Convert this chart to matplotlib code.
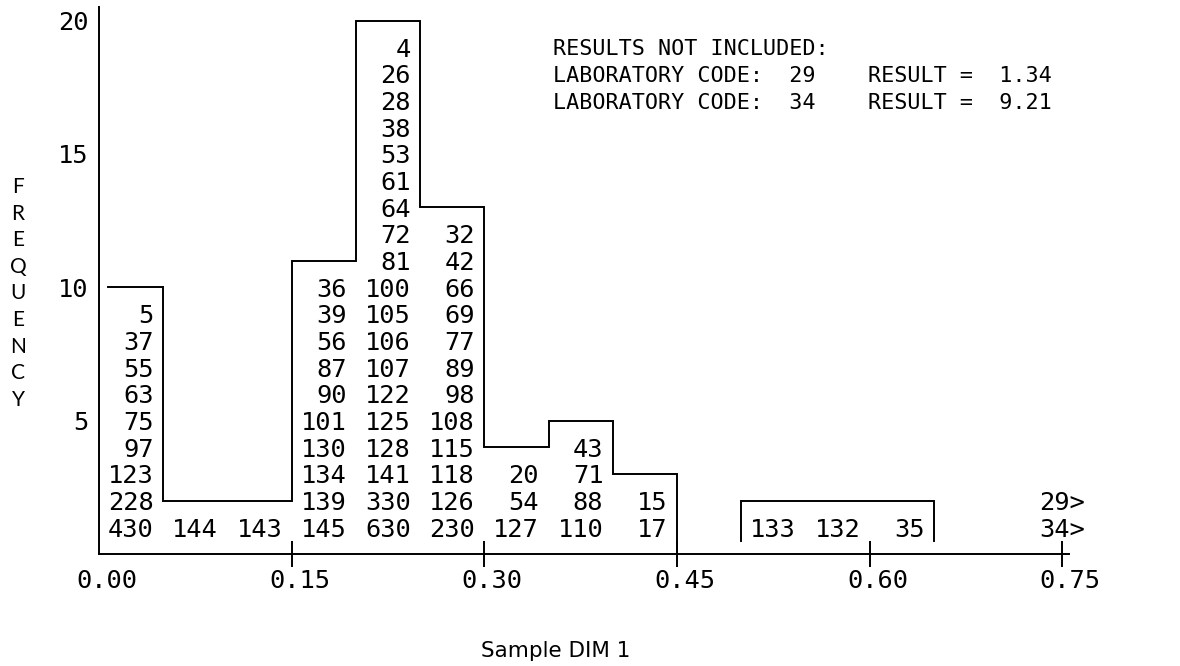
import numpy as np
import matplotlib
matplotlib.use('Agg')
import matplotlib.pyplot as plt
from matplotlib.transforms import ScaledTranslation

# ---------------- data ----------------
bin_edges = [0.00, 0.05, 0.10, 0.15, 0.20, 0.25, 0.30, 0.35, 0.40,
             0.45, 0.50, 0.55, 0.60, 0.65, 0.70, 0.75]

# laboratory codes in each bin, listed bottom -> top
bin0 = [430, 228, 123, 97, 75, 63, 55, 37, 5]
bin1 = [144]
bin2 = [143]
bin3 = [145, 139, 134, 130, 101, 90, 87, 56, 39, 36]
bin4 = [630, 330, 141, 128, 125, 122, 107, 106, 105, 100, 81, 72, 64, 61, 53, 38, 28, 26, 4]
bin5 = [230, 126, 118, 115, 108, 98, 89, 77, 69, 66, 42, 32]
bin6 = [127, 54, 20]
bin7 = [110, 88, 71, 43]
bin8 = [17, 15]
bin9 = []
bin10 = [133]
bin11 = [132]
bin12 = [35]
bin13 = []
bin14 = []
bin_codes = [bin0, bin1, bin2, bin3, bin4, bin5, bin6, bin7, bin8,
             bin9, bin10, bin11, bin12, bin13, bin14]

overflow_labels = ["34>", "29>"]          # bottom -> top, beyond 0.75
excluded_codes = [29, 34]
excluded_results = [1.34, 9.21]

xtick_values = [0.00, 0.15, 0.30, 0.45, 0.60, 0.75]
xtick_labels = ["0.00", "0.15", "0.30", "0.45", "0.60", "0.75"]
ytick_values = [5, 10, 15, 20]
ytick_labels = ["5", "10", "15", "20"]

# ---------------- figure ----------------
plt.rcParams['font.family'] = ['DejaVu Sans Mono']
W, H = 1180, 666
fig = plt.figure(figsize=(W / 100, H / 100), dpi=100)
ax = fig.add_axes([0, 0, 1, 1])

x0_px, xscale = 99.0, 1284.4      # pixel of x=0, pixels per unit
y0_px, yscale = 554.0, 26.67      # pixel (from top) of y=0, pixels per count
ax.set_xlim(-x0_px / xscale, (W - x0_px) / xscale)
ax.set_ylim(-(H - y0_px) / yscale, y0_px / yscale)

LW = 1.4
FS = 18.3
counts = np.array([len(c) for c in bin_codes])
edges = np.array(bin_edges)

# ---- histogram outlines (drawn height = count + 1) ----
def outline(i0, i1, left_drop, right_drop, inset=0.0):
    hts = counts[i0:i1] + 1
    xs, ys = [], []
    if left_drop is not None:
        xs.append(edges[i0]); ys.append(left_drop)
    for k, h in enumerate(hts):
        xl = edges[i0 + k] + (inset if k == 0 else 0.0)
        xs += [xl, edges[i0 + k + 1]]
        ys += [h, h]
    xs.append(edges[i1]); ys.append(right_drop)
    ax.plot(xs, ys, color='black', lw=LW, solid_joinstyle='miter', zorder=3)

outline(0, 9, None, 0.0, inset=0.007)
outline(10, 13, 0.5, 0.5)

# ---- code labels in each bin ----
for i, codes in enumerate(bin_codes):
    for j, code in enumerate(codes):
        ax.annotate(str(code), xy=(edges[i + 1], j + 1), xytext=(-6.8, 0),
                    textcoords='offset points', ha='right',
                    va='center_baseline', fontsize=FS, color='black')

for j, lab in enumerate(overflow_labels):
    ax.annotate(lab, xy=(edges[-1], j + 1), xytext=(16.5, 0),
                textcoords='offset points', ha='right',
                va='center_baseline', fontsize=FS, color='black')

# ---- axes ----
for s in ['top', 'right']:
    ax.spines[s].set_visible(False)
ax.spines['left'].set_position(('data', 0))
ax.spines['bottom'].set_position(('data', 0))
ax.spines['left'].set_bounds(0, 20.5)
ax.spines['bottom'].set_bounds(0, 0.7555)
ax.spines['left'].set_linewidth(LW)
ax.spines['bottom'].set_linewidth(LW)

ax.set_xticks(xtick_values)
ax.set_xticklabels(xtick_labels)
ax.tick_params(axis='x', direction='inout', length=18.7, width=LW,
               pad=1.5, labelsize=FS, colors='black')
ax.xaxis.get_major_ticks()[0].tick1line.set_visible(False)
shift = ScaledTranslation(8 / 100, 0, fig.dpi_scale_trans)
for lbl in ax.get_xticklabels():
    lbl.set_transform(lbl.get_transform() + shift)
ax.set_yticks(ytick_values)
ax.set_yticklabels(ytick_labels)
ax.tick_params(axis='y', length=0, pad=7.5, labelsize=FS, colors='black')

# ---- excluded results note ----
note_x = (553 - x0_px) / xscale
ax.text(note_x, 19, "RESULTS NOT INCLUDED:", ha='left', va='center_baseline',
        fontsize=15.7)
for k, (code, res) in enumerate(zip(excluded_codes, excluded_results)):
    ax.text(note_x, 18 - k, f"LABORATORY CODE:  {code:<2d}    RESULT = {res:5.2f}",
            ha='left', va='center_baseline', fontsize=15.7)

# ---- axis titles ----
ylab = "FREQUENCY"
for k, ch in enumerate(ylab):
    fig.text(18 / W, 1 - (185 + k * 26.6) / H, ch, ha='center',
             va='center_baseline', fontsize=15, family=['Lato', 'DejaVu Sans'])

fig.text(556 / W, 1 - 649 / H, "Sample DIM 1", ha='center', va='center_baseline',
         fontsize=15.5, family=['DejaVu Sans'])

fig.savefig('out.png', dpi=100, facecolor='white')
